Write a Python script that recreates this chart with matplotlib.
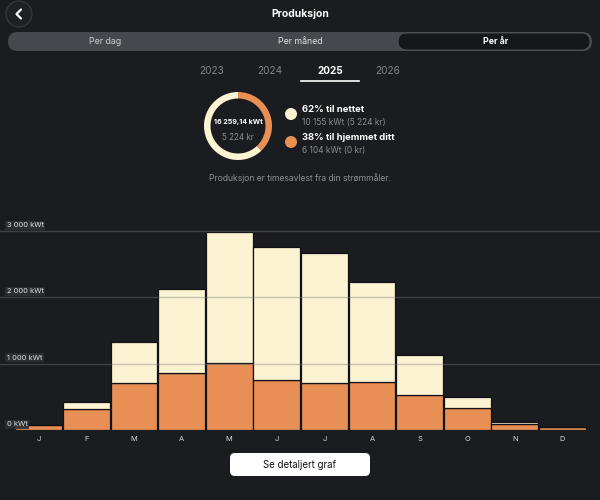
import matplotlib
matplotlib.use("Agg")
import matplotlib.pyplot as plt
from matplotlib.patches import FancyBboxPatch, Circle, Wedge
import numpy as np

plt.rcParams['font.family'] = ['Inter', 'DejaVu Sans']

# ---- data ----
months = ["J", "F", "M", "A", "M", "J", "J", "A", "S", "O", "N", "D"]
total_kwh = [75, 417, 1320, 2119, 2977, 2751, 2670, 2234, 1124, 492, 120, 45]
home_kwh = [72, 321, 703, 862, 1004, 753, 712, 718, 522, 336, 90, 40]
y_ticks = [0, 1000, 2000, 3000]
y_tick_labels = ["0 kWt", "1 000 kWt", "2 000 kWt", "3 000 kWt"]
years = ["2023", "2024", "2025", "2026"]
tabs = ["Per dag", "Per måned", "Per år"]
share_grid = 62
share_home = 38
total_label = "16 259,14 kWt"
kr_label = "5 224 kr"
legend_lines = [("62% til nettet", "10 155 kWt (5 224 kr)"),
                ("38% til hjemmet ditt", "6 104 kWt (0 kr)")]

BG = "#1b1c20"
CREAM = "#fbf3d2"
ORANGE = "#e88f55"
GRAY_TXT = "#8d8e92"

W, H = 600, 500
fig = plt.figure(figsize=(6, 5), dpi=100, facecolor=BG)

# ---- chart axes (pixel geometry) ----
zero_px = 430
px_per_k = 66.4
top_px = 215
ax = fig.add_axes([0, 1 - zero_px / H, 1, (zero_px - top_px) / H])
ax.set_facecolor(BG)
pitch = 47.6
c0 = 38.8
ax.set_xlim(-c0 / pitch, (W - c0) / pitch)
ax.set_ylim(0, (zero_px - top_px) / px_per_k * 1000)
for s in ax.spines.values():
    s.set_visible(False)
ax.set_xticks([])
ax.set_yticks([])

x = np.arange(len(months))
cream_part = [t - h for t, h in zip(total_kwh, home_kwh)]
ax.bar(x, home_kwh, width=0.98, color=ORANGE, edgecolor="#111215", linewidth=0.9, zorder=2)
ax.bar(x, cream_part, bottom=home_kwh, width=0.98, color=CREAM, edgecolor="#111215",
       linewidth=0.9, zorder=2)
for yt in y_ticks[1:]:
    ax.axhline(yt, color="#7a7a7a", alpha=0.4, linewidth=1.0, zorder=3)
for yt, lab in zip(y_ticks, y_tick_labels):
    ax.annotate(lab, xy=(0, yt), xycoords=("axes fraction", "data"),
                xytext=(5, 2), textcoords="offset points", fontsize=5.4, color="#e0e0e0",
                va="bottom", ha="left", zorder=5,
                bbox=dict(boxstyle="square,pad=0.2", fc="#2e2f33", ec="none", alpha=0.9))
for i, m in enumerate(months):
    ax.annotate(m, xy=(i, 0), xycoords="data", xytext=(0, -4), textcoords="offset points",
                fontsize=5.4, color="#d8d8d8", ha="center", va="top", annotation_clip=False)

# ---- overlay axes for UI ----
ui = fig.add_axes([0, 0, 1, 1], zorder=10)
ui.set_xlim(0, W)
ui.set_ylim(H, 0)
ui.axis("off")
ui.patch.set_alpha(0)

# back button
ui.add_patch(Circle((19, 14), 13, fc="#1f2024", ec="#3a3b40", lw=0.8))
ui.plot([21, 16.5, 21], [9.5, 14, 18.5], color="white", lw=1.6, solid_capstyle="round")
ui.text(300, 14, "Produksjon", color="white", fontsize=7.5, fontweight="bold", ha="center", va="center")

# segmented control
ui.add_patch(FancyBboxPatch((8, 32), 584, 19, boxstyle="round,pad=0,rounding_size=9.5",
                            fc="#46484d", ec="none"))
ui.add_patch(FancyBboxPatch((398, 33), 192, 17, boxstyle="round,pad=0,rounding_size=8.5",
                            fc="#16171a", ec="#55575c", lw=0.6))
for tx, lab, col, fw in zip([105, 300, 496], tabs, ["#d0d0d2", "#e0e0e2", "white"],
                            ["normal", "normal", "bold"]):
    ui.text(tx, 41.5, lab, color=col, fontsize=6.3, fontweight=fw, ha="center", va="center")

# years
for tx, yr in zip([212, 270, 330, 388], years):
    sel = yr == "2025"
    ui.text(tx, 71, yr, color="white" if sel else "#85868a", fontsize=7.2,
            fontweight="bold" if sel else "normal", ha="center", va="center")
ui.plot([301, 359], [81, 81], color="white", lw=1.2)

# donut (y axis inverted: increasing angle = clockwise on screen, -90 = top)
cx, cy, r = 238, 126, 34
start = -90
ang_home = share_home / 100 * 360
ui.add_patch(Wedge((cx, cy), r, start, start + ang_home, width=6.5, fc=ORANGE, ec="none"))
ui.add_patch(Wedge((cx, cy), r, start + ang_home, start + 360, width=6.5, fc=CREAM, ec="none"))
ui.text(cx, 122, total_label, color="white", fontsize=5.1, fontweight="bold", ha="center", va="center")
ui.text(cx, 137, kr_label, color=GRAY_TXT, fontsize=5.8, ha="center", va="center")

# legend
for (main, sub), yy, col in zip(legend_lines, [114, 142], [CREAM, ORANGE]):
    ui.add_patch(Circle((291, yy), 6, fc=col, ec="none"))
    ui.text(302, yy - 4.5, main, color="white", fontsize=6.8, fontweight="bold", ha="left", va="center")
    ui.text(302, yy + 9, sub, color=GRAY_TXT, fontsize=6.0, ha="left", va="center")

ui.text(300, 178, "Produksjon er timesavlest fra din strømmåler.", color=GRAY_TXT,
        fontsize=6.2, ha="center", va="center")

# bottom button
ui.add_patch(FancyBboxPatch((230, 453), 140, 23, boxstyle="round,pad=0,rounding_size=5",
                            fc="white", ec="none"))
ui.text(300, 464.5, "Se detaljert graf", color="#111111", fontsize=7, ha="center", va="center")

fig.savefig("out.png", dpi=100, facecolor=BG)
